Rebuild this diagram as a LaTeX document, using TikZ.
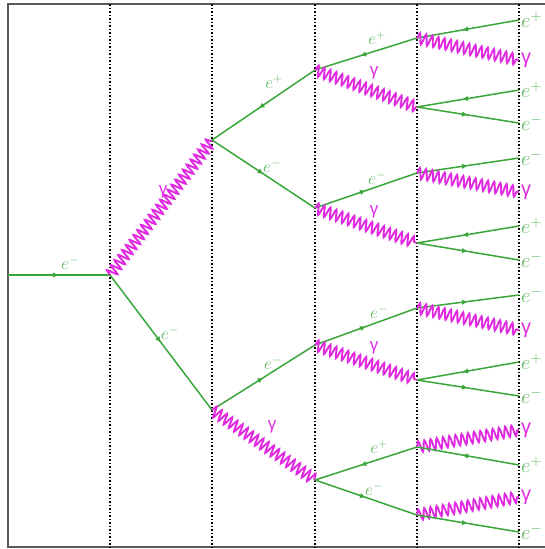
\documentclass[tikz,border=0pt]{standalone}
\usepackage{amsmath}
\usepackage{fontspec}
\newfontfamily\gfont{Liberation Sans}
\usetikzlibrary{arrows.meta, decorations.pathmorphing, decorations.markings}
\definecolor{elc}{HTML}{3AA63A}
\definecolor{phc}{HTML}{E02CE0}
\definecolor{frc}{HTML}{5A5A5A}

\begin{document}
\begin{tikzpicture}[x=1pt, y=-1pt,
    fermion/.style={elc, line width=1.5pt, postaction={decorate},
      decoration={markings, mark=at position 0.5 with {\arrow{Latex[length=6pt,width=5.5pt]}}}},
    antifermion/.style={elc, line width=1.5pt, postaction={decorate},
      decoration={markings, mark=at position 0.5 with {\arrow{Latex[length=6pt,width=5.5pt,reversed]}}}},
    photon/.style={phc, line width=1.9pt, decorate,
      decoration={snake, amplitude=5.5pt, segment length=6.3pt}},
    gridl/.style={black, line width=1.4pt, dash pattern=on 1.5pt off 2pt},
    elbl/.style={elc!80!white, inner sep=1pt, font=\fontsize{18}{20}\selectfont},
    glbl/.style={phc, inner sep=1pt, font=\gfont\fontsize{17}{19}\selectfont},
    outl/.style={anchor=west, inner sep=1pt, font=\fontsize{20}{22}\selectfont}]
  \useasboundingbox (0,0) rectangle (544,549);
  % frame and time slices
  \draw[frc, line width=2pt] (546,4) -- (8,4) -- (8,547) -- (546,547);
  \foreach \x in {110,212,315,417,519}
    \draw[gridl] (\x,4) -- (\x,547);

  % vertices
  \coordinate (in) at (8,275);
  \coordinate (a) at (110,275);
  \coordinate (b1) at (212,140);
  \coordinate (b2) at (212,410);
  \foreach \i/\y in {1/70, 2/208, 3/345, 4/480}
    \coordinate (c\i) at (315,\y);
  \foreach \i/\y in {1/38, 2/107, 3/173, 4/243, 5/308, 6/380, 7/447, 8/515}
    \coordinate (d\i) at (417,\y);

  % final particles
  \foreach \i/\y/\s/\l in {1/20/elc!80!white/$e^{+}$, 2/60/phc/\gfont γ, 3/90/elc!80!white/$e^{+}$,
      4/123/elc!80!white/$e^{-}$, 5/158/elc!80!white/$e^{-}$, 6/192/phc/\gfont γ, 7/226/elc!80!white/$e^{+}$,
      8/260/elc!80!white/$e^{-}$, 9/295/elc!80!white/$e^{-}$, 10/330/phc/\gfont γ, 11/362/elc!80!white/$e^{+}$,
      12/396/elc!80!white/$e^{-}$, 13/430/phc/\gfont γ, 14/465/elc!80!white/$e^{+}$, 15/497/phc/\gfont γ,
      16/532/elc!80!white/$e^{-}$}{
    \coordinate (o\i) at (519,\y);
    \node[outl, \s] (t\i) at (520,\y) {\l};
  }

  % shower
  \draw[fermion] (in) -- (a);
  \draw[photon] (a) -- (b1);
  \draw[fermion] (a) -- (b2);
  \draw[antifermion] (b1) -- (c1);
  \draw[fermion] (b1) -- (c2);
  \draw[fermion] (b2) -- (c3);
  \draw[photon] (b2) -- (c4);
  \draw[antifermion] (c1) -- (d1);
  \draw[photon] (c1) -- (d2);
  \draw[fermion] (c2) -- (d3);
  \draw[photon] (c2) -- (d4);
  \draw[fermion] (c3) -- (d5);
  \draw[photon] (c3) -- (d6);
  \draw[antifermion] (c4) -- (d7);
  \draw[fermion] (c4) -- (d8);
  \foreach \d/\i/\s in {1/1/antifermion, 1/2/photon, 2/3/antifermion, 2/4/fermion,
      3/5/fermion, 3/6/photon, 4/7/antifermion, 4/8/fermion,
      5/9/fermion, 5/10/photon, 6/11/antifermion, 6/12/fermion,
      7/13/photon, 7/14/antifermion, 8/15/photon, 8/16/fermion}
    \draw[\s] (d\d) -- (o\i);

  % labels on the inner lines
  \node[elbl] (l1) at (70,263) {$e^{-}$};
  \node[glbl] (l2) at (163,192) {γ};
  \node[elbl] (l3) at (170,333) {$e^{-}$};
  \node[elbl] (l4) at (274,82) {$e^{+}$};
  \node[elbl] (l5) at (272,166) {$e^{-}$};
  \node[elbl] (l6) at (273,363) {$e^{-}$};
  \node[glbl] (l7) at (272,427) {γ};
  \node[elbl] (l8) at (377,38) {$e^{+}$};
  \node[glbl] (l9) at (374,73) {γ};
  \node[elbl] (l10) at (377,178) {$e^{-}$};
  \node[glbl] (l11) at (374,212) {γ};
  \node[elbl] (l12) at (379,312) {$e^{-}$};
  \node[glbl] (l13) at (374,348) {γ};
  \node[elbl] (l14) at (379,447) {$e^{+}$};
  \node[elbl] (l15) at (374,489) {$e^{-}$};
\end{tikzpicture}
\end{document}
